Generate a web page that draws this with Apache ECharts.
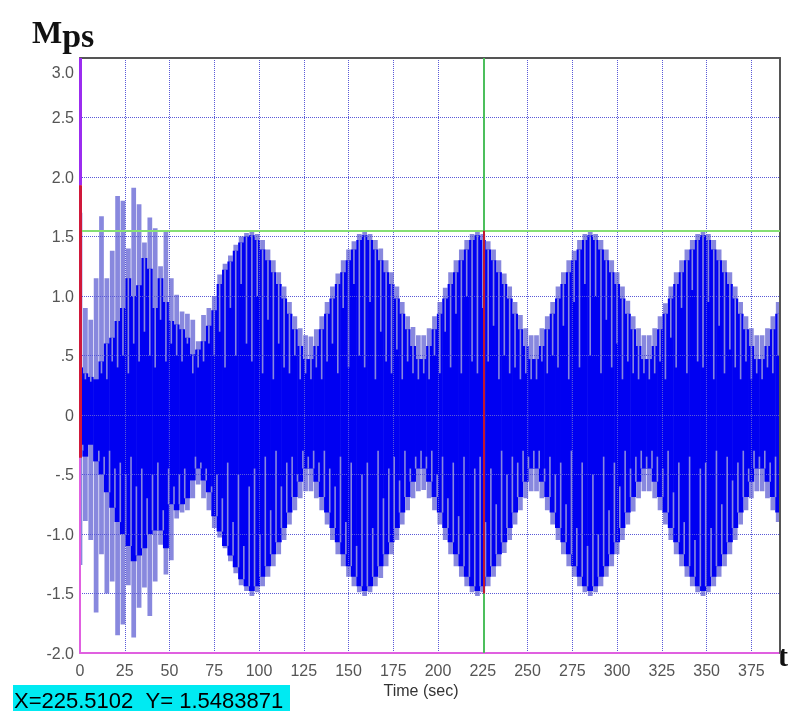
<!DOCTYPE html>
<html><head><meta charset="utf-8">
<script src="https://cdn.jsdelivr.net/npm/echarts@6/dist/echarts.min.js"></script>
<style>html,body{margin:0;padding:0;background:#fff}#c{width:789px;height:711px}</style>
</head><body><div id="c"></div>
<script>
// ---- data ----
const STEP = 3; // seconds between plotted samples
const times = [0,3,6,9,12,15,18,21,24,27,30,33,36,39,42,45,48,51,54,57,60,63,66,69,72,75,78,81,84,87,90,93,96,99,102,105,108,111,114,117,120,123,126,129,132,135,138,141,144,147,150,153,156,159,162,165,168,171,174,177,180,183,186,189,192,195,198,201,204,207,210,213,216,219,222,225,228,231,234,237,240,243,246,249,252,255,258,261,264,267,270,273,276,279,282,285,288,291,294,297,300,303,306,309,312,315,318,321,324,327,330,333,336,339,342,345,348,351,354,357,360,363,366,369,372,375,378,381,384,387,390];
// outer (spike tip) envelope
const upperTips = [1.70,0.90,0.80,1.15,1.67,1.15,1.38,1.84,1.80,1.40,1.91,1.77,1.45,1.66,1.57,1.25,1.55,1.15,1.01,0.87,0.85,0.80,0.62,0.84,0.90,1.00,1.18,1.27,1.34,1.43,1.50,1.53,
 1.55,1.52,1.47,1.39,1.30,1.20,1.08,0.95,0.83,0.73,0.67,0.66,0.72,0.83,0.95,1.08,1.19,1.30,1.39,1.46,1.52,
 1.55,1.52,1.47,1.40,1.30,1.20,1.08,0.95,0.83,0.74,0.67,0.67,0.73,0.83,0.95,1.07,1.20,1.30,1.39,1.47,1.52,
 1.55,1.52,1.46,1.39,1.30,1.19,1.08,0.95,0.84,0.73,0.67,0.67,0.73,0.83,0.95,1.08,1.20,1.30,1.38,1.47,1.52,
 1.55,1.52,1.47,1.39,1.30,1.20,1.08,0.96,0.83,0.73,0.67,0.67,0.73,0.83,0.94,1.08,1.20,1.30,1.39,1.47,1.52,
 1.55,1.52,1.47,1.39,1.30,1.20,1.08,0.95,0.83,0.73,0.67,0.67,0.73,0.83,0.95];
const lowerTips = [-1.26,-0.89,-1.05,-1.66,-1.17,-1.50,-1.40,-1.85,-1.76,-1.43,-1.87,-1.62,-1.45,-1.69,-1.40,-1.09,-1.34,-1.22,-0.87,-0.82,-0.80,-0.70,-0.585,-0.70,-0.80,-0.95,-1.03,-1.12,-1.23,-1.33,-1.43,-1.48,
 -1.52,-1.49,-1.44,-1.36,-1.27,-1.17,-1.05,-0.92,-0.80,-0.70,-0.64,-0.64,-0.70,-0.80,-0.92,-1.05,-1.17,-1.27,-1.36,-1.44,-1.49,
 -1.52,-1.49,-1.44,-1.37,-1.27,-1.17,-1.05,-0.92,-0.80,-0.70,-0.64,-0.63,-0.70,-0.80,-0.92,-1.05,-1.17,-1.27,-1.36,-1.44,-1.49,
 -1.52,-1.49,-1.44,-1.36,-1.27,-1.16,-1.05,-0.92,-0.80,-0.70,-0.64,-0.64,-0.70,-0.80,-0.92,-1.05,-1.17,-1.27,-1.36,-1.44,-1.49,
 -1.52,-1.49,-1.44,-1.36,-1.27,-1.17,-1.05,-0.92,-0.81,-0.70,-0.64,-0.64,-0.70,-0.80,-0.92,-1.05,-1.17,-1.27,-1.36,-1.44,-1.49,
 -1.52,-1.49,-1.44,-1.36,-1.27,-1.17,-1.05,-0.92,-0.80,-0.70,-0.64,-0.64,-0.70,-0.80,-0.90];
// dense (dark) part of the oscillation
const upperDark = [0.40,0.35,0.32,0.30,0.45,0.60,0.65,0.79,0.90,1.15,1.00,1.09,1.32,1.23,0.90,1.15,0.95,0.79,0.76,0.72,0.65,0.51,0.55,0.62,0.75,0.88,1.10,1.22,1.29,1.38,1.45,1.50,
 1.51,1.47,1.39,1.30,1.20,1.10,0.98,0.85,0.72,0.58,0.47,0.47,0.58,0.72,0.85,0.98,1.10,1.20,1.30,1.39,1.47,
 1.51,1.47,1.39,1.30,1.20,1.10,0.98,0.85,0.72,0.58,0.47,0.47,0.58,0.72,0.85,0.98,1.10,1.20,1.30,1.39,1.47,
 1.51,1.47,1.39,1.30,1.20,1.10,0.98,0.85,0.72,0.58,0.47,0.47,0.58,0.72,0.85,0.98,1.10,1.20,1.30,1.39,1.47,
 1.51,1.47,1.39,1.30,1.20,1.10,0.98,0.85,0.72,0.58,0.47,0.47,0.58,0.72,0.85,0.98,1.10,1.20,1.30,1.39,1.47,
 1.51,1.47,1.39,1.30,1.20,1.10,0.98,0.85,0.72,0.58,0.47,0.47,0.58,0.72,0.85];
const lowerDark = [-0.30,-0.35,-0.25,-0.39,-0.50,-0.65,-0.78,-0.90,-1.00,-1.10,-1.23,-1.18,-1.12,-1.00,-0.97,-0.97,-1.12,-0.75,-0.80,-0.75,-0.70,-0.55,-0.45,-0.55,-0.65,-0.85,-0.98,-1.10,-1.18,-1.28,-1.38,-1.44,
 -1.48,-1.44,-1.36,-1.27,-1.17,-1.07,-0.95,-0.82,-0.69,-0.56,-0.45,-0.45,-0.56,-0.69,-0.82,-0.95,-1.07,-1.17,-1.27,-1.36,-1.44,
 -1.48,-1.44,-1.36,-1.27,-1.17,-1.07,-0.95,-0.82,-0.69,-0.56,-0.45,-0.45,-0.56,-0.69,-0.82,-0.95,-1.07,-1.17,-1.27,-1.36,-1.44,
 -1.48,-1.44,-1.36,-1.27,-1.17,-1.07,-0.95,-0.82,-0.69,-0.56,-0.45,-0.45,-0.56,-0.69,-0.82,-0.95,-1.07,-1.17,-1.27,-1.36,-1.44,
 -1.48,-1.44,-1.36,-1.27,-1.17,-1.07,-0.95,-0.82,-0.69,-0.56,-0.45,-0.45,-0.56,-0.69,-0.82,-0.95,-1.07,-1.17,-1.27,-1.36,-1.44,
 -1.48,-1.44,-1.36,-1.27,-1.17,-1.07,-0.95,-0.82,-0.69,-0.56,-0.45,-0.45,-0.56,-0.69,-0.82];
// depth (|value|) down to which the light individual swings show through the dense part
const lightDepth = [0.25,0.30,0.28,0.30,0.35,0.30,0.45,0.40,0.50,0.35,0.60,0.45,0.70,0.50,0.40,0.80,0.45,0.60,0.50,0.45,0.60,0.35,0.40,0.45,0.60,0.50,0.70,0.40,0.90,0.50,1.10,0.60,
 0.45,1.00,0.35,0.80,0.30,0.60,0.40,0.35,0.50,0.30,0.35,0.30,0.40,0.30,0.45,0.60,0.35,0.90,0.40,1.10,0.50,
 0.40,0.95,0.30,0.70,0.45,0.35,0.55,0.30,0.45,0.35,0.30,0.35,0.30,0.50,0.35,0.70,0.40,0.85,0.35,1.00,0.45,
 0.35,0.90,0.45,0.75,0.30,0.50,0.35,0.40,0.30,0.35,0.30,0.30,0.45,0.35,0.50,0.40,0.75,0.30,0.95,0.40,1.10,
 0.50,1.00,0.35,0.80,0.40,0.60,0.30,0.45,0.35,0.30,0.35,0.30,0.35,0.45,0.30,0.65,0.40,0.90,0.35,1.05,0.45,
 0.40,0.95,0.30,0.75,0.35,0.55,0.40,0.30,0.45,0.30,0.35,0.30,0.40,0.35,0.50];
// cursor read-out
const cursorX = 225.5102;
const cursorY = 1.5483871;
const cursorRedLow = -1.5;
// coloured trace on the left edge (t = 0)
const edgeX = 0;
const edgePurple = [3.0, 1.93];
const edgeRed = [1.93, -0.36];
// axes
const xTicks = [0,25,50,75,100,125,150,175,200,225,250,275,300,325,350,375];
const yTickValues = [-2,-1.5,-1,-0.5,0,0.5,1,1.5,2,2.5,3];
const yTickLabels = ['-2.0','-1.5','-1.0','-.5','0','.5','1.0','1.5','2.0','2.5','3.0'];

const DARK = '#0000f2', LAV = '#8888de';
const N = times.length;
const waveData = times.map((t,i)=>[t, upperTips[i], lowerTips[i], upperDark[i], lowerDark[i]]);
const stripeData = times.map((t,i)=>[t, lightDepth[i]]);

function renderWave(params, api){
  const t = api.value(0);
  const xa = api.coord([t - STEP/2, 0])[0], xb = api.coord([t + STEP/2, 0])[0];
  const w = xb - xa;
  const yHi = api.coord([t, api.value(1)])[1], yLo = api.coord([t, api.value(2)])[1];
  const yHd = api.coord([t, api.value(3)])[1], yLd = api.coord([t, api.value(4)])[1];
  return {type:'group', children:[
    {type:'rect', shape:{x:xa + w*0.06, y:yHi, width:w*0.88, height:yLo-yHi}, style:{fill:LAV}},
    {type:'rect', shape:{x:xa-0.3, y:yHd, width:w+0.6, height:yLd-yHd}, style:{fill:DARK}}
  ]};
}
function renderStripes(params, api){
  const i = params.dataIndex;
  const t = api.value(0), s = api.value(1);
  const ch = [];
  const hd = upperDark[i];
  if (s < hd){
    const xc = api.coord([t,0])[0];
    const y1 = api.coord([t,hd])[1], y2 = api.coord([t,s])[1];
    ch.push({type:'rect', shape:{x:xc-0.8, y:y1, width:1.6, height:y2-y1}, style:{fill:LAV}});
  }
  if (i < N-1){
    const ld = Math.max(lowerDark[i], lowerDark[i+1]);
    if (-s > ld){
      const xe = api.coord([t + STEP/2, 0])[0];
      const y1 = api.coord([t,-s])[1], y2 = api.coord([t,ld])[1];
      ch.push({type:'rect', shape:{x:xe-0.8, y:y1, width:1.6, height:y2-y1}, style:{fill:LAV}});
    }
  }
  return {type:'group', children:ch};
}

const FONT = '"Liberation Sans", Arial, sans-serif';
const GRIDLINE = {show:true, lineStyle:{color:'#5a5ad8', width:1, type:[1,1]}};
const chart = echarts.init(document.getElementById('c'), null, {renderer:'canvas'});
chart.setOption({
  animation:false,
  backgroundColor:'#fff',
  grid:{left:80, right:9, top:58, bottom:58, show:false},
  xAxis:[
    {type:'value', min:0, max:391, interval:25, z:3,
      axisLine:{show:true, onZero:false, lineStyle:{color:'#e060e0', width:2}},
      axisTick:{show:false},
      splitLine:GRIDLINE,
      axisLabel:{margin:11, color:'#555', fontSize:16, fontFamily:FONT,
        formatter:v => xTicks.indexOf(v) >= 0 ? String(v) : ''}},
    {type:'value', position:'top', min:0, max:391, z:4,
      axisLine:{show:true, onZero:false, lineStyle:{color:'#555', width:2}},
      axisTick:{show:false}, axisLabel:{show:false}, splitLine:{show:false}}
  ],
  yAxis:[
    {type:'value', min:-2, max:3, interval:0.5, z:3,
      axisLine:{show:true, onZero:false, lineStyle:{color:'#e060e0', width:2}},
      axisTick:{show:false},
      splitLine:GRIDLINE,
      axisLabel:{margin:6, color:'#555', fontSize:16, fontFamily:FONT, padding:[3,0,0,0],
        formatter:v => { const k = yTickValues.indexOf(v); if (k<0) return ''; return v===3 ? '{top|'+yTickLabels[k]+'}' : yTickLabels[k]; },
        rich:{top:{padding:[28,0,0,0], color:'#555', fontSize:16, fontFamily:FONT}}}},
    {type:'value', position:'right', min:-2, max:3, z:4,
      axisLine:{show:true, onZero:false, lineStyle:{color:'#555', width:2}},
      axisTick:{show:false}, axisLabel:{show:false}, splitLine:{show:false}}
  ],
  series:[
    {type:'custom', renderItem:renderWave, data:waveData, encode:{x:0, y:[1,2]}, clip:true, z:2, silent:true},
    {type:'custom', renderItem:renderStripes, data:stripeData, encode:{x:0, y:1}, clip:true, z:2.5, silent:true},
    {type:'line', data:[[cursorX, cursorY]], showSymbol:false, symbolSize:0, lineStyle:{opacity:0}, z:10, silent:true,
      markLine:{silent:true, symbol:['none','none'], label:{show:false}, animation:false,
        data:[
          {yAxis:cursorY, lineStyle:{color:'#86df74', width:2, type:'solid'}},
          {xAxis:cursorX, lineStyle:{color:'#4cbf5c', width:2, type:'solid'}},
          [{coord:[cursorX, cursorRedLow], lineStyle:{color:'#c0182e', width:2, type:'solid'}}, {coord:[cursorX, cursorY]}],
          [{coord:[edgeX, edgePurple[0]], lineStyle:{color:'#9b2cf0', width:3, type:'solid'}}, {coord:[edgeX, edgePurple[1]]}],
          [{coord:[edgeX, edgeRed[0]], lineStyle:{color:'#d0183a', width:3, type:'solid'}}, {coord:[edgeX, edgeRed[1]]}]
        ]}}
  ],
  graphic:[
    {type:'text', x:32, y:35, style:{text:'{m|M}{p|ps}', verticalAlign:'middle', rich:{
      m:{fontSize:32, fontWeight:'bold', fontFamily:'"Liberation Serif", "Times New Roman", serif', fill:'#111', color:'#111'},
      p:{fontSize:34, fontWeight:'bold', fontFamily:'"Liberation Serif", "Times New Roman", serif', fill:'#111', color:'#111', padding:[6,0,0,0]}}}},
    {type:'text', x:778, y:658, style:{text:'t', font:'bold 30px "Liberation Serif", serif', fill:'#111', verticalAlign:'middle'}},
    {type:'text', x:421, y:692, style:{text:'Time (sec)', font:'16px ' + FONT, fill:'#333', align:'center', verticalAlign:'middle'}},
    {type:'rect', shape:{x:13, y:685, width:277, height:27}, style:{fill:'#00eaf2'}},
    {type:'text', x:14, y:702, style:{text:'X=' + cursorX + '  Y= ' + cursorY, font:'22px ' + FONT, fill:'#000', verticalAlign:'middle'}}
  ]
});
</script></body></html>
